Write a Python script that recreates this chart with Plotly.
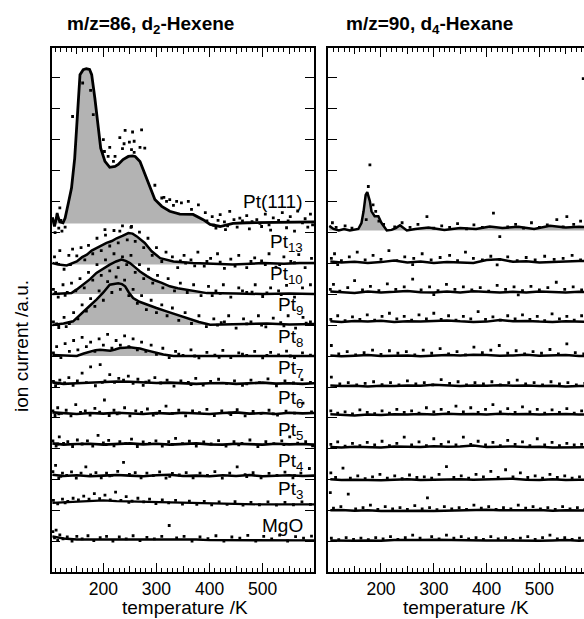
import plotly.graph_objects as go

GRAY = "#b3b3b3"
FONT = "Arial, Liberation Sans, Helvetica, sans-serif"

# ---------------- shared temperature grid for flat traces ----------------
GRID_T = [104, 125, 150, 175, 200, 225, 250, 275, 300, 325, 350, 375, 400,
          425, 450, 475, 500, 525, 550, 575, 597]

# ---------------- LEFT PANEL: m/z=86, d2-Hexene ----------------
L_LABELS = ["Pt(111)", "Pt<sub>13</sub>", "Pt<sub>10</sub>", "Pt<sub>9</sub>",
            "Pt<sub>8</sub>", "Pt<sub>7</sub>", "Pt<sub>6</sub>", "Pt<sub>5</sub>",
            "Pt<sub>4</sub>", "Pt<sub>3</sub>", "MgO"]
L_BASE = [11.28, 9.95, 9.0, 8.0, 7.0, 6.1, 5.13, 4.14, 3.12, 2.26, 1.08]
L_LABEL_Y = [12.0, 10.64, 9.61, 8.61, 7.58, 6.58, 5.61, 4.58, 3.58, 2.68, 1.53]

L111_T = [104, 108, 113, 118, 124, 128, 134, 140, 146, 150, 156, 162, 168, 174, 178,
          184, 190, 195, 203, 212, 222, 228, 237, 247, 255, 260, 269, 278, 288, 297,
          310, 325, 344, 369, 388, 401, 420, 444, 470, 508, 540, 570, 597]
L111_H = [0.2, -0.1, 0.3, 0.05, 0.02, 0.17, 0.65, 1.14, 2.1, 3.18, 4.8, 4.96, 4.99,
          4.97, 4.8, 4.04, 3.07, 2.43, 2.0, 1.81, 1.84, 1.9, 2.06, 2.16, 2.18, 2.16,
          2.0, 1.62, 1.14, 0.77, 0.55, 0.39, 0.3, 0.29, 0.12, -0.03, -0.1, 0.0, 0.02,
          0.03, 0.05, 0.05, 0.05]
L111_DOTS = [(161, 4.53), (176, 4.29), (142, 3.45), (181, 3.51), (200, 2.7), (241, 3.0),
             (255, 2.95), (272, 3.02), (231, 2.77), (249, 2.62), (258, 2.65), (239, 2.57),
             (212, 2.45), (202, 2.32), (236, 2.41), (253, 2.38), (269, 2.45), (278, 2.43),
             (258, 2.29), (209, 2.16), (222, 2.16), (219, 2.0), (297, 1.23), (314, 0.84),
             (325, 0.77), (338, 0.71), (332, 0.58), (310, 0.82), (319, 0.71), (347, 0.66),
             (360, 0.71), (379, 0.6), (366, 0.45), (392, 0.35), (405, 0.22), (420, 0.28),
             (438, 0.39), (457, 0.17), (470, 0.25), (489, 0.12), (505, 0.3), (520, 0.18),
             (537, 0.35), (552, 0.22), (566, 0.4), (580, 0.15), (590, 0.3), (412, -0.15),
             (430, -0.2), (452, -0.12), (475, -0.18), (498, -0.1), (515, -0.22),
             (545, -0.14), (560, -0.25), (585, -0.12), (113, 0.3), (116, -0.15),
             (118, 0.5), (120, 0.1), (109, -0.3), (122, -0.25), (128, -0.12),
             (203, -0.2), (231, -0.25), (253, -0.1), (395, 0.08), (428, 0.05),
             (462, 0.08), (495, 0.0), (530, 0.1), (575, 0.02), (408, -0.06),
             (416, 0.1), (434, -0.08), (446, 0.12), (480, 0.06), (512, -0.05),
             (548, 0.08), (594, -0.05)]

L13_T = [104, 115, 131, 142, 150, 160, 169, 178, 187, 196, 206, 216, 225, 236, 247,
         255, 263, 278, 291, 307, 332, 369, 400, 444, 500, 540, 570, 597]
L13_H = [0.05, 0.0, -0.03, 0.06, 0.1, 0.24, 0.32, 0.45, 0.53, 0.6, 0.7, 0.76, 0.85,
         0.93, 1.02, 1.0, 0.91, 0.7, 0.43, 0.21, 0.1, 0.05, 0.02, 0.0, 0.05, 0.03,
         0.05, 0.05]
L13_DOTS = [(108, 0.25), (118, 0.45), (126, -0.15), (135, 0.3), (142, 0.5), (150, 0.28),
            (158, 0.55), (165, 0.15), (172, 0.62), (180, 0.35), (188, 0.85), (196, 0.45),
            (204, 0.95), (212, 0.6), (220, 1.1), (228, 0.7), (236, 1.25), (245, 0.8),
            (252, 1.2), (260, 0.75), (268, 1.05), (276, 0.55), (284, 0.85), (292, 0.3),
            (300, 0.55), (310, 0.1), (318, 0.4), (330, 0.25), (340, -0.1), (352, 0.3),
            (365, 0.15), (378, 0.4), (390, -0.05), (402, 0.2), (415, 0.35), (428, -0.12),
            (440, 0.18), (455, 0.3), (470, -0.1), (485, 0.22), (498, 0.12), (512, 0.35),
            (525, -0.08), (540, 0.25), (553, 0.1), (568, 0.32), (580, -0.1), (592, 0.2),
            (112, 0.05), (138, 0.0), (355, 0.05), (420, 0.08), (505, 0.0), (560, 0.06),
            (345, 0.12), (372, -0.04), (395, 0.1), (448, -0.05), (478, 0.1), (532, 0.0)]

L10_T = [104, 120, 140, 150, 162, 175, 187, 200, 212, 224, 234, 242, 250, 260, 269,
         282, 294, 310, 325, 340, 357, 375, 395, 450, 500, 550, 597]
L10_H = [0.0, 0.02, 0.03, 0.15, 0.3, 0.48, 0.68, 0.82, 0.95, 1.05, 1.11, 1.07, 1.0,
         0.86, 0.73, 0.58, 0.46, 0.36, 0.25, 0.19, 0.14, 0.08, 0.03, 0.02, 0.0, 0.02, 0.0]
L10_DOTS = [(106, 0.15), (115, -0.1), (124, 0.3), (132, 0.05), (140, 0.35), (148, 0.1),
            (156, 0.5), (164, 0.2), (172, 0.7), (180, 0.45), (188, 0.95), (196, 0.6),
            (204, 1.1), (212, 0.75), (220, 1.3), (228, 0.85), (236, 1.2), (244, 0.95),
            (252, 1.25), (260, 0.7), (268, 0.95), (276, 0.5), (285, 0.8), (293, 0.35),
            (302, 0.6), (312, 0.2), (322, 0.5), (334, 0.1), (345, 0.35), (358, 0.05),
            (370, 0.3), (384, -0.05), (398, 0.25), (412, 0.1), (426, 0.3), (440, -0.1),
            (455, 0.2), (470, 0.05), (486, 0.3), (500, -0.08), (515, 0.2), (530, 0.1),
            (545, 0.28), (560, -0.1), (575, 0.2), (590, 0.3), (110, 0.05), (128, -0.04),
            (420, 0.02), (480, 0.06), (535, -0.02), (405, -0.05), (462, 0.1), (508, 0.04)]

L9_T = [104, 125, 143, 152, 162, 175, 187, 200, 212, 220, 228, 235, 241, 248, 256,
        268, 281, 300, 319, 338, 357, 380, 401, 444, 508, 550, 597]
L9_H = [0.0, 0.05, 0.12, 0.27, 0.44, 0.63, 0.82, 1.05, 1.3, 1.33, 1.35, 1.32, 1.25,
        1.05, 0.87, 0.75, 0.66, 0.55, 0.44, 0.33, 0.23, 0.1, 0.01, 0.03, 0.05, 0.02, 0.03]
L9_DOTS = [(106, 0.1), (116, -0.08), (126, 0.25), (136, 0.05), (144, 0.4), (152, 0.2),
           (160, 0.65), (168, 0.45), (176, 0.85), (184, 0.6), (192, 1.1), (200, 0.8),
           (208, 1.4), (216, 1.05), (224, 1.55), (232, 1.15), (240, 1.45), (248, 0.95),
           (256, 1.15), (264, 0.7), (272, 0.95), (281, 0.5), (290, 0.8), (300, 0.4),
           (310, 0.65), (320, 0.3), (330, 0.55), (342, 0.15), (354, 0.4), (366, 0.05),
           (380, 0.3), (394, -0.05), (408, 0.2), (422, 0.08), (436, 0.3), (450, -0.1),
           (464, 0.2), (478, 0.1), (492, 0.3), (506, -0.06), (520, 0.22), (534, 0.08),
           (548, 0.3), (562, -0.1), (576, 0.25), (590, 0.1), (112, 0.04), (130, -0.05),
           (415, 0.0), (470, 0.04), (540, -0.03), (428, 0.1), (498, 0.0), (582, 0.06)]

L8_T = [104, 130, 150, 163, 175, 185, 194, 204, 213, 222, 231, 240, 250, 260, 269,
        280, 288, 300, 313, 332, 400, 450, 500, 550, 597]
L8_H = [0.03, 0.01, 0.0, 0.08, 0.15, 0.19, 0.2, 0.18, 0.17, 0.21, 0.26, 0.27, 0.28,
        0.26, 0.24, 0.19, 0.15, 0.1, 0.05, 0.0, 0.0, 0.01, 0.0, 0.01, 0.0]
L8_DOTS = [(106, 0.1), (112, 0.3), (120, -0.05), (128, 0.4), (136, 0.15), (144, 0.5),
           (152, 0.2), (160, 0.6), (168, 0.3), (176, 0.45), (184, 0.15), (192, 0.55),
           (200, 0.35), (208, 0.7), (216, 0.25), (224, 0.5), (232, 0.35), (240, 0.65),
           (248, 0.3), (256, 0.55), (264, 0.2), (272, 0.45), (280, 0.15), (290, 0.35),
           (300, 0.05), (312, 0.25), (324, -0.05), (336, 0.15), (350, 0.02), (365, 0.2),
           (380, -0.06), (395, 0.12), (410, 0.03), (425, 0.18), (440, -0.05), (455, 0.1),
           (470, 0.02), (485, 0.15), (500, -0.06), (515, 0.12), (530, 0.04), (545, 0.16),
           (560, -0.05), (575, 0.1), (590, 0.03), (342, 0.06), (372, 0.0), (418, -0.04),
           (462, 0.06), (508, 0.02), (552, 0.0)]

L7_H = [0.05, 0.0, 0.02, 0.04, 0.06, 0.08, 0.07, 0.05, 0.03, 0.04, 0.02, 0.0, 0.02,
        0.03, 0.0, 0.02, 0.04, 0.01, 0.02, 0.0, 0.02]
L6_H = [0.05, 0.02, 0.0, 0.03, 0.01, 0.04, 0.02, 0.0, 0.03, 0.01, 0.04, 0.02, 0.0,
        0.03, 0.05, 0.01, 0.03, 0.0, 0.04, 0.02, 0.03]
L5_H = [0.04, 0.0, 0.02, 0.03, 0.0, 0.02, 0.04, 0.01, 0.03, 0.0, 0.02, 0.04, 0.01,
        0.0, 0.03, 0.02, 0.0, 0.03, 0.01, 0.02, 0.0]
L4_H = [0.05, 0.01, 0.03, 0.0, 0.02, 0.04, 0.02, 0.0, 0.03, 0.05, 0.01, 0.02, 0.0,
        0.03, 0.01, 0.04, 0.0, 0.02, 0.03, 0.01, 0.02]
L3_H = [0.0, 0.02, 0.05, 0.07, 0.08, 0.06, 0.05, 0.03, 0.02, 0.0, -0.01, -0.02, -0.03,
        -0.03, -0.04, -0.04, -0.05, -0.05, -0.05, -0.05, -0.05]
LMGO_H = [0.1, 0.03, 0.0, 0.0, 0.0, 0.0, 0.0, 0.02, 0.0, 0.0, 0.0, 0.0, -0.02, -0.02,
          -0.03, -0.02, -0.02, -0.03, -0.03, -0.03, -0.03]

L7_DOTS = [(106, 0.08), (110, -0.06), (118, 0.12), (127, 0.03), (135, 0.2), (143, -0.05),
           (151, 0.1), (160, 0.35), (168, 0.04), (176, 0.55), (185, -0.06), (194, 0.62),
           (203, 0.1), (212, 0.3), (221, 0.05), (229, 0.18), (238, 0.12), (247, 0.25),
           (256, 0.02), (265, 0.15), (275, -0.05), (286, 0.1), (297, 0.2), (308, 0.03),
           (320, 0.12), (333, -0.07), (346, 0.1), (360, 0.05), (374, 0.18), (388, -0.04),
           (402, 0.08), (417, 0.15), (432, 0.02), (447, 0.1), (462, -0.05), (478, 0.12),
           (494, 0.04), (510, 0.16), (526, -0.06), (542, 0.1), (558, 0.03), (574, 0.14),
           (590, 0.05), (114, 0.02), (198, 0.05), (280, 0.06), (365, -0.02), (470, 0.0)]
L6_DOTS = [(105, 0.1), (109, -0.05), (114, 0.2), (121, 0.02), (130, 0.12), (139, -0.06),
           (148, 0.3), (157, 0.05), (166, 0.1), (175, -0.04), (184, 0.18), (193, 0.06),
           (202, 0.45), (211, -0.05), (220, 0.12), (230, 0.03), (240, 0.2), (250, -0.06),
           (261, 0.1), (272, 0.05), (283, 0.16), (294, -0.04), (306, 0.08), (318, 0.25),
           (330, 0.02), (342, 0.12), (355, -0.06), (368, 0.1), (381, 0.04), (395, 0.15),
           (409, -0.05), (423, 0.1), (437, 0.03), (452, 0.14), (467, -0.06), (482, 0.08),
           (497, 0.02), (512, 0.12), (528, -0.04), (544, 0.09), (560, 0.03), (576, 0.35),
           (592, 0.07), (116, 0.0), (226, 0.0), (300, 0.02), (440, -0.02), (520, 0.0)]
L5_DOTS = [(105, 0.12), (111, -0.05), (117, 0.25), (125, 0.04), (133, 0.1), (142, -0.06),
           (151, 0.15), (160, 0.02), (170, 0.12), (180, -0.05), (190, 0.3), (200, 0.06),
           (210, 0.14), (220, -0.04), (231, 0.1), (242, 0.03), (253, 0.18), (264, -0.06),
           (275, 0.09), (287, 0.04), (299, 0.12), (311, -0.05), (323, 0.1), (336, 0.2),
           (349, 0.03), (362, 0.11), (375, -0.05), (389, 0.09), (403, 0.02), (417, 0.13),
           (431, -0.05), (446, 0.1), (461, 0.04), (476, 0.15), (491, -0.06), (506, 0.1),
           (521, 0.03), (536, 0.12), (551, 0.25), (566, 0.05), (581, 0.1), (594, -0.04),
           (114, 0.02), (205, 0.0), (330, 0.01), (455, -0.01), (540, 0.0)]
L4_DOTS = [(105, 0.15), (110, 0.35), (116, -0.05), (123, 0.1), (131, 0.03), (140, 0.14),
           (149, -0.06), (158, 0.1), (167, 0.3), (176, 0.04), (186, 0.12), (196, -0.05),
           (206, 0.1), (216, 0.03), (227, 0.16), (238, 0.45), (249, 0.06), (260, 0.12),
           (271, -0.05), (282, 0.1), (294, 0.02), (306, 0.14), (318, -0.06), (330, 0.09),
           (343, 0.04), (356, 0.12), (369, -0.05), (382, 0.1), (396, 0.03), (410, 0.15),
           (424, -0.06), (438, 0.1), (452, 0.3), (467, 0.05), (482, 0.12), (497, -0.05),
           (512, 0.09), (527, 0.03), (542, 0.13), (557, -0.05), (572, 0.1), (588, 0.25),
           (120, 0.0), (212, 0.01), (325, 0.0), (470, -0.01), (560, 0.02)]
L3_DOTS = [(106, 0.08), (114, -0.03), (123, 0.12), (133, 0.05), (143, 0.15), (153, 0.1),
           (163, 0.22), (173, 0.12), (183, 0.3), (193, 0.14), (203, 0.25), (213, 0.1),
           (223, 0.35), (233, 0.08), (243, 0.2), (254, 0.06), (265, 0.15), (276, 0.03),
           (287, 0.12), (299, -0.02), (311, 0.1), (323, 0.0), (336, 0.08), (349, -0.04),
           (362, 0.06), (376, -0.05), (390, 0.05), (404, -0.06), (418, 0.03), (433, -0.05),
           (448, 0.04), (463, -0.07), (478, 0.02), (494, -0.06), (510, 0.03), (526, -0.07),
           (542, 0.02), (558, -0.06), (574, 0.03), (590, -0.05), (128, 0.0), (248, 0.02)]
LMGO_DOTS = [(105, 0.25), (108, 0.05), (111, 0.3), (114, -0.02), (118, 0.15), (124, 0.02),
             (132, 0.08), (141, -0.05), (150, 0.1), (160, 0.02), (171, 0.12), (182, -0.04),
             (194, 0.06), (206, 0.1), (218, -0.05), (230, 0.08), (243, 0.02), (256, 0.12),
             (269, -0.04), (282, 0.07), (296, 0.02), (310, 0.1), (324, 0.45), (338, 0.05),
             (352, 0.1), (367, -0.05), (382, 0.08), (397, 0.03), (412, 0.12), (427, -0.05),
             (442, 0.08), (457, 0.04), (472, 0.13), (487, -0.05), (502, 0.1), (517, 0.02),
             (532, 0.14), (547, -0.05), (562, 0.09), (577, 0.04), (592, 0.11)]

# ---------------- RIGHT PANEL: m/z=90, d4-Hexane ----------------
R_BASE = [11.05, 10.0, 9.03, 8.08, 6.99, 6.02, 5.08, 4.03, 2.98, 1.99, 1.02]

R111_T = [102, 110, 120, 130, 141, 150, 157, 163, 167, 171, 174, 179, 182, 188, 195,
          201, 211, 220, 228, 236, 249, 265, 290, 320, 350, 380, 406, 430, 460, 490,
          520, 550, 575, 597]
R111_H = [0.15, 0.05, 0.0, 0.05, 0.0, 0.03, 0.05, 0.24, 0.62, 1.15, 1.24, 0.94, 0.62,
          0.46, 0.46, 0.24, 0.0, 0.02, 0.08, 0.17, 0.0, 0.05, 0.1, 0.02, 0.08, 0.05,
          0.13, 0.08, 0.12, 0.05, 0.15, 0.1, 0.12, 0.1]
R111_DOTS = [(179, 2.12), (176, 1.42), (185, 0.83), (190, 0.62), (172, 0.35), (196, 0.3),
             (205, 0.2), (108, 0.25), (115, 0.1), (132, 0.15), (145, 0.08), (226, 0.12),
             (240, 0.25), (255, 0.1), (270, 0.2), (287, 0.45), (300, 0.08), (315, 0.15),
             (330, 0.1), (345, 0.22), (362, 0.05), (376, 0.18), (392, 0.1), (413, 0.56),
             (425, -0.2), (440, 0.12), (455, 0.2), (470, 0.08), (485, 0.25), (500, 0.1),
             (515, 0.18), (533, 0.35), (545, 0.12), (552, 0.45), (565, 0.2), (578, 0.3),
             (583, 4.9)]

R13_H = [0.05, 0.02, 0.04, 0.0, 0.03, 0.08, 0.02, 0.05, 0.0, 0.03, 0.02, 0.0, 0.1, 0.12,
         0.04, 0.06, 0.02, 0.04, 0.05, 0.07, 0.06]
R10_H = [0.05, 0.03, 0.0, 0.05, 0.02, 0.04, 0.07, 0.03, 0.02, 0.05, 0.02, 0.06, 0.03,
         0.02, 0.04, 0.02, 0.05, 0.03, 0.02, 0.04, 0.03]
R9_H = [0.04, 0.02, 0.05, 0.03, 0.06, 0.02, 0.04, 0.03, 0.05, 0.07, 0.04, 0.02, 0.03,
        0.08, 0.04, 0.05, 0.03, 0.02, 0.04, 0.03, 0.02]
R8_H = [0.03, 0.0, 0.02, 0.04, 0.01, 0.02, 0.03, 0.0, 0.02, 0.04, 0.03, 0.05, 0.04,
        0.02, 0.03, 0.05, 0.02, 0.03, 0.04, 0.01, 0.02]
R7_H = [0.03, 0.01, 0.02, 0.0, 0.02, 0.01, 0.03, 0.02, 0.05, 0.02, 0.01, 0.03, 0.02,
        0.04, 0.02, 0.03, 0.01, 0.02, 0.0, 0.01, 0.02]
R6_H = [0.04, 0.02, 0.0, 0.03, 0.02, 0.04, 0.03, 0.05, 0.03, 0.06, 0.04, 0.05, 0.03,
        0.06, 0.04, 0.05, 0.03, 0.04, 0.05, 0.03, 0.04]
R5_H = [0.03, 0.02, 0.04, 0.03, 0.02, 0.05, 0.04, 0.03, 0.06, 0.04, 0.05, 0.08, 0.03,
        0.04, 0.05, 0.03, 0.04, 0.02, 0.03, 0.02, 0.03]
R4_H = [0.04, 0.02, 0.03, 0.02, 0.01, 0.03, 0.04, 0.02, 0.03, 0.02, 0.04, 0.03, 0.04,
        0.05, 0.06, 0.03, 0.02, 0.04, 0.02, 0.03, 0.02]
R3_H = [0.03, 0.04, 0.02, 0.03, 0.01, 0.02, 0.03, 0.02, 0.01, 0.02, 0.03, 0.02, 0.05,
        0.03, 0.02, 0.03, 0.04, 0.02, 0.03, 0.02, 0.02]
RMGO_H = [0.03, 0.02, 0.02, 0.03, 0.02, 0.04, 0.03, 0.04, 0.05, 0.04, 0.03, 0.02, 0.03,
          0.03, 0.02, 0.03, 0.02, 0.03, 0.04, 0.02, 0.03]

R13_DOTS = [(106, 0.15), (112, 0.3), (125, 0.08), (140, 0.2), (155, 0.35), (170, 0.1),
            (185, 0.25), (200, 0.12), (215, 0.4), (230, 0.08), (245, 0.2), (262, 0.15),
            (278, 0.3), (295, 0.1), (312, 0.18), (330, 0.25), (345, 0.08), (360, 0.35),
            (375, 0.15), (392, 0.1), (408, 0.22), (425, 0.12), (440, 0.2), (458, 0.08),
            (475, 0.18), (492, 0.1), (510, 0.22), (528, 0.12), (545, 0.15), (562, 0.25),
            (578, 0.1), (590, 0.18), (118, -0.05), (260, -0.05), (420, -0.06)]
R10_DOTS = [(104, 0.12), (110, 0.28), (122, 0.06), (137, 0.18), (150, 0.4), (165, 0.1),
            (180, 0.22), (196, 0.08), (212, 0.3), (228, 0.12), (244, 0.2), (260, 0.45),
            (276, 0.1), (292, 0.2), (308, 0.08), (324, 0.28), (340, 0.12), (356, 0.2),
            (372, 0.1), (388, 0.18), (404, 0.06), (420, 0.25), (436, 0.12), (452, 0.2),
            (468, 0.08), (484, 0.22), (500, 0.1), (516, 0.18), (532, 0.35), (548, 0.12),
            (564, 0.2), (580, 0.1), (594, 0.42), (300, -0.05), (460, -0.06)]
R9_DOTS = [(105, 0.1), (118, 0.22), (132, 0.06), (146, 0.18), (160, 0.1), (174, 0.25),
           (188, 0.08), (202, 0.2), (216, 0.3), (230, 0.12), (244, 0.2), (258, 0.08),
           (272, 0.25), (286, 0.12), (300, 0.3), (314, 0.1), (328, 0.22), (342, 0.08),
           (356, 0.2), (370, 0.12), (384, 0.35), (398, 0.1), (412, 0.18), (426, 0.08),
           (440, 0.22), (454, 0.12), (468, 0.25), (482, 0.1), (496, 0.2), (510, 0.06),
           (524, 0.28), (538, 0.12), (552, 0.2), (566, 0.08), (580, 0.22), (594, 0.1)]
R8_DOTS = [(106, 0.35), (120, 0.08), (136, 0.15), (152, 0.05), (168, 0.12), (184, 0.2),
           (200, 0.06), (216, 0.18), (232, 0.1), (248, 0.15), (264, 0.05), (280, 0.2),
           (296, 0.1), (312, 0.25), (328, 0.08), (344, 0.15), (360, 0.05), (376, 0.3),
           (392, 0.12), (408, 0.2), (424, 0.35), (440, 0.1), (456, 0.18), (472, 0.08),
           (488, 0.15), (504, 0.1), (520, 0.22), (536, 0.08), (552, 0.4), (568, 0.12),
           (584, 0.08)]
R7_DOTS = [(106, 0.3), (122, 0.08), (138, 0.12), (154, 0.05), (170, 0.1), (186, 0.15),
           (202, 0.06), (218, 0.12), (234, 0.05), (250, 0.18), (266, 0.08), (282, 0.12),
           (298, 0.05), (314, 0.22), (330, 0.1), (346, 0.15), (362, 0.05), (378, 0.12),
           (394, 0.08), (410, 0.15), (426, 0.05), (442, 0.12), (458, 0.2), (474, 0.08),
           (490, 0.12), (506, 0.05), (522, 0.15), (538, 0.08), (554, 0.12), (570, 0.05),
           (586, 0.1)]
R6_DOTS = [(105, 0.15), (118, 0.08), (132, 0.12), (146, 0.05), (160, 0.18), (174, 0.1),
           (188, 0.06), (202, 0.15), (216, 0.08), (230, 0.2), (244, 0.1), (258, 0.15),
           (272, 0.08), (286, 0.25), (300, 0.12), (314, 0.2), (328, 0.1), (342, 0.3),
           (356, 0.12), (370, 0.25), (384, 0.1), (398, 0.2), (412, 0.35), (426, 0.12),
           (440, 0.22), (454, 0.1), (468, 0.28), (482, 0.12), (496, 0.2), (510, 0.08),
           (524, 0.18), (538, 0.1), (552, 0.22), (566, 0.08), (580, 0.15), (594, 0.1)]
R5_DOTS = [(105, 0.12), (118, 0.2), (132, 0.06), (146, 0.15), (160, 0.08), (174, 0.18),
           (188, 0.1), (202, 0.22), (216, 0.08), (230, 0.15), (244, 0.35), (258, 0.1),
           (272, 0.2), (286, 0.08), (300, 0.3), (314, 0.12), (328, 0.2), (342, 0.1),
           (356, 0.35), (370, 0.12), (384, 0.22), (398, 0.1), (412, 0.18), (426, 0.08),
           (440, 0.25), (454, 0.12), (468, 0.2), (482, 0.08), (496, 0.3), (510, 0.1),
           (524, 0.18), (538, 0.08), (552, 0.15), (566, 0.1), (580, 0.12), (594, 0.06)]
R4_DOTS = [(105, 0.25), (114, 0.1), (128, 0.4), (142, 0.08), (156, 0.15), (170, 0.06),
           (184, 0.12), (198, 0.2), (212, 0.08), (226, 0.15), (240, 0.06), (254, 0.18),
           (268, 0.1), (282, 0.12), (296, 0.08), (310, 0.2), (324, 0.45), (338, 0.1),
           (352, 0.15), (366, 0.08), (380, 0.2), (394, 0.12), (408, 0.3), (422, 0.1),
           (436, 0.35), (450, 0.12), (464, 0.25), (478, 0.1), (492, 0.15), (506, 0.08),
           (520, 0.2), (534, 0.1), (548, 0.15), (562, 0.08), (576, 0.12), (590, 0.06)]
R3_DOTS = [(104, 0.6), (110, 0.1), (124, 0.15), (138, 0.55), (152, 0.08), (166, 0.12),
           (180, 0.2), (194, 0.06), (208, 0.15), (222, 0.08), (236, 0.12), (250, 0.06),
           (264, 0.18), (278, 0.08), (292, 0.12), (306, 0.05), (320, 0.15), (334, 0.08),
           (348, 0.12), (362, 0.06), (376, 0.2), (390, 0.1), (404, 0.15), (418, 0.06),
           (432, 0.12), (446, 0.08), (460, 0.2), (474, 0.1), (488, 0.15), (502, 0.08),
           (516, 0.12), (530, 0.06), (544, 0.15), (558, 0.08), (572, 0.12), (586, 0.06)]
RMGO_DOTS = [(106, 0.1), (120, 0.05), (134, 0.12), (148, 0.06), (162, 0.1), (176, 0.05),
             (190, 0.12), (204, 0.08), (218, 0.15), (232, 0.06), (246, 0.12), (260, 0.2),
             (274, 0.1), (288, 1.4), (296, 0.15), (310, 0.08), (324, 0.2), (338, 0.1),
             (352, 0.15), (366, 0.08), (380, 0.12), (394, 0.06), (408, 0.15), (422, 0.08),
             (436, 0.12), (450, 0.06), (464, 0.1), (478, 0.15), (492, 0.06), (506, 0.12),
             (520, 0.2), (534, 0.08), (548, 0.12), (562, 0.06), (576, 0.1), (590, 0.08)]

# ---------------- axis geometry (pixels -> domain fractions) ----------------
W, H = 584, 619
X1_DOM = [51.7 / W, 314.0 / W]
X2_DOM = [328.3 / W, 1.0]
X1_RANGE = [102.7, 596.7]
X2_RANGE = [100.2, 584.5]
Y_RANGE = [0.03, 16.94]
Y_TICKS = list(range(1, 17))
MID_TICKS = [150, 250, 350, 450, 550]

fig = go.Figure()


def add_series(T, Hs, base, xa, ya, fill, dots, width):
    ys = [base + h for h in Hs]
    if fill:
        yf = [base + max(h, 0.0) for h in Hs]
        fig.add_trace(go.Scatter(
            x=list(T) + list(T)[::-1], y=yf + [base] * len(T), fill="toself",
            fillcolor=GRAY, line=dict(width=0), mode="lines", xaxis=xa, yaxis=ya,
            hoverinfo="skip", showlegend=False))
    fig.add_trace(go.Scatter(
        x=T, y=ys, mode="lines", line=dict(color="black", width=width),
        xaxis=xa, yaxis=ya, showlegend=False, hoverinfo="skip"))
    if dots:
        fig.add_trace(go.Scatter(
            x=[d[0] for d in dots], y=[base + d[1] for d in dots], mode="markers",
            marker=dict(color="black", size=2.8, symbol="square", line=dict(width=0)),
            xaxis=xa, yaxis=ya, showlegend=False, hoverinfo="skip"))


# left panel (drawn top to bottom)
left_specs = [
    (L111_T, L111_H, True, L111_DOTS, 2.8),
    (L13_T, L13_H, True, L13_DOTS, 2.5),
    (L10_T, L10_H, True, L10_DOTS, 2.5),
    (L9_T, L9_H, True, L9_DOTS, 2.5),
    (L8_T, L8_H, True, L8_DOTS, 2.5),
    (GRID_T, L7_H, False, L7_DOTS, 2.6),
    (GRID_T, L6_H, False, L6_DOTS, 2.6),
    (GRID_T, L5_H, False, L5_DOTS, 2.6),
    (GRID_T, L4_H, False, L4_DOTS, 2.6),
    (GRID_T, L3_H, False, L3_DOTS, 2.2),
    (GRID_T, LMGO_H, False, LMGO_DOTS, 2.4),
]
for (T, Hs, fill, dots, w), base in zip(left_specs, L_BASE):
    add_series(T, Hs, base, "x", "y", fill, dots, w)

right_specs = [
    (R111_T, R111_H, True, R111_DOTS),
    (GRID_T, R13_H, False, R13_DOTS),
    (GRID_T, R10_H, False, R10_DOTS),
    (GRID_T, R9_H, False, R9_DOTS),
    (GRID_T, R8_H, False, R8_DOTS),
    (GRID_T, R7_H, False, R7_DOTS),
    (GRID_T, R6_H, False, R6_DOTS),
    (GRID_T, R5_H, False, R5_DOTS),
    (GRID_T, R4_H, False, R4_DOTS),
    (GRID_T, R3_H, False, R3_DOTS),
    (GRID_T, RMGO_H, False, RMGO_DOTS),
]
for (T, Hs, fill, dots), base in zip(right_specs, R_BASE):
    add_series(T, Hs, base, "x2", "y2", fill, dots, 2.5)

# dummy traces so the overlay axes (mid ticks) render
fig.add_trace(go.Scatter(x=[None], y=[None], xaxis="x3", yaxis="y", showlegend=False))
fig.add_trace(go.Scatter(x=[None], y=[None], xaxis="x4", yaxis="y2", showlegend=False))

common_x = dict(showline=True, linecolor="black", linewidth=1.5, mirror="ticks",
                ticks="inside", ticklen=9, tickwidth=1, tickcolor="black",
                tick0=0, dtick=100, showgrid=False, zeroline=False,
                minor=dict(tick0=0, dtick=10, ticks="inside", ticklen=4,
                           tickwidth=1, tickcolor="black", showgrid=False),
                tickfont=dict(size=17.5, color="black", family=FONT),
                ticklabelstandoff=0)
mid_x = dict(showline=False, mirror="ticks", ticks="inside", ticklen=6, tickwidth=1,
             tickcolor="black", tickvals=MID_TICKS, showticklabels=False,
             showgrid=False, zeroline=False)
common_y = dict(range=Y_RANGE, showline=True, linecolor="black", linewidth=1.5,
                ticks="inside", ticklen=9, tickwidth=1, tickcolor="black",
                tickvals=Y_TICKS, showticklabels=False, showgrid=False, zeroline=False)

fig.update_layout(
    width=W, height=H,
    margin=dict(l=0, r=0, t=48, b=47, pad=0),
    paper_bgcolor="white", plot_bgcolor="white",
    showlegend=False,
    font=dict(family=FONT, color="black", size=18),
    xaxis=dict(domain=X1_DOM, range=X1_RANGE, anchor="y", **common_x),
    xaxis2=dict(domain=X2_DOM, range=X2_RANGE, anchor="y2", **common_x),
    xaxis3=dict(domain=X1_DOM, range=X1_RANGE, anchor="y", overlaying="x", **mid_x),
    xaxis4=dict(domain=X2_DOM, range=X2_RANGE, anchor="y2", overlaying="x2", **mid_x),
    yaxis=dict(domain=[0, 1], anchor="x", mirror="ticks", **common_y),
    yaxis2=dict(domain=[0, 1], anchor="x2", mirror=False, **common_y),
)


def py(p):
    return (572.0 - p) / 524.0


annotations = [
    dict(text="<b>m/z=86, d<sub>2</sub>-Hexene</b>", x=150 / W, y=py(25),
         xref="paper", yref="paper", showarrow=False, font=dict(size=19),
         xanchor="center", yanchor="middle"),
    dict(text="<b>m/z=90, d<sub>4</sub>-Hexane</b>", x=430 / W, y=py(25),
         xref="paper", yref="paper", showarrow=False, font=dict(size=19),
         xanchor="center", yanchor="middle"),
    dict(text="temperature /K", x=185 / W, y=py(607), xref="paper", yref="paper",
         showarrow=False, font=dict(size=19), xanchor="center", yanchor="middle"),
    dict(text="temperature /K", x=466 / W, y=py(607), xref="paper", yref="paper",
         showarrow=False, font=dict(size=19), xanchor="center", yanchor="middle"),
    dict(text="ion current /a.u.", x=21 / W, y=py(346), xref="paper", yref="paper",
         showarrow=False, font=dict(size=19), textangle=-90,
         xanchor="center", yanchor="middle"),
]
for lab, ly in zip(L_LABELS, L_LABEL_Y):
    annotations.append(dict(text=lab, x=305 / W, y=ly, xref="paper", yref="y",
                            showarrow=False, font=dict(size=19),
                            xanchor="right", yanchor="middle",
                            bgcolor="rgba(0,0,0,0)"))
fig.update_layout(annotations=annotations)

fig.write_html("out.html")
